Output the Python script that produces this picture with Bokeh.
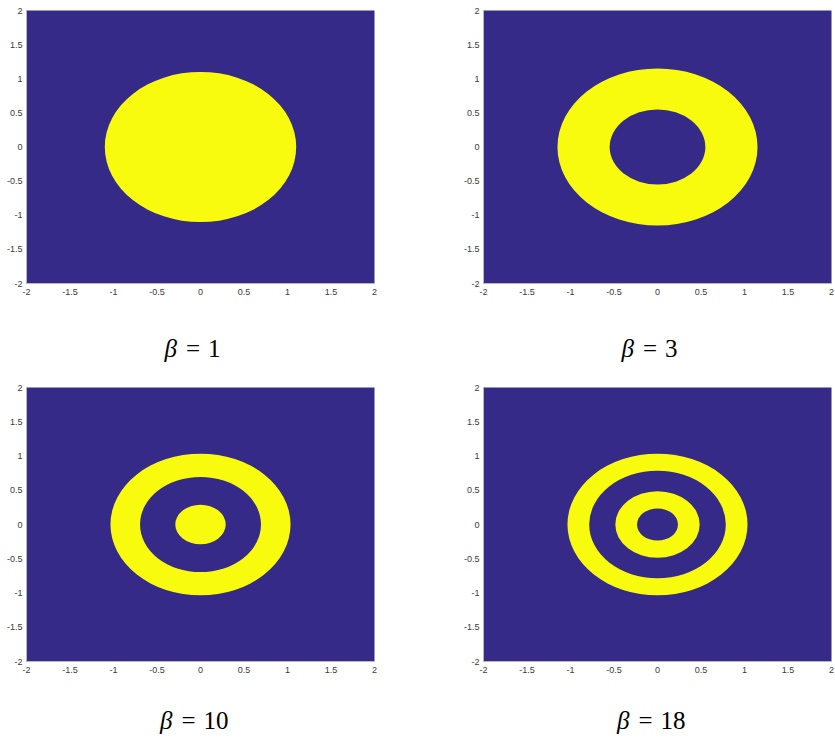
from bokeh.plotting import figure
from bokeh.layouts import column, row
from bokeh.models import FixedTicker, Label
from bokeh.embed import file_html
from bokeh.resources import INLINE

# ---- data ----
betas = [1, 3, 10, 18]
# boundary radii of the yellow/blue zones, outermost first (outermost zone is yellow)
radii_b1 = [1.10]
radii_b3 = [1.15, 0.55]
radii_b10 = [1.035, 0.695, 0.29]
radii_b18 = [1.035, 0.785, 0.485, 0.235]
tick_values = [-2, -1.5, -1, -0.5, 0, 0.5, 1, 1.5, 2]
tick_labels = ["-2", "-1.5", "-1", "-0.5", "0", "0.5", "1", "1.5", "2"]

BLUE = "#352A87"
YELLOW = "#F9FB0E"
FRAME_W = 348
TOTAL_W = 835


def make(radii, left, right, top, bottom, frame_h):
    p = figure(x_range=(-2, 2), y_range=(-2, 2),
               frame_width=FRAME_W, frame_height=frame_h,
               min_border_left=left, min_border_right=right,
               min_border_top=top, min_border_bottom=bottom,
               output_backend="svg", toolbar_location=None,
               background_fill_color=BLUE, border_fill_color="white",
               outline_line_color=None)
    p.grid.visible = False
    colors = [YELLOW if i % 2 == 0 else BLUE for i in range(len(radii))]
    diam = [2 * r for r in radii]
    p.ellipse(x=[0] * len(radii), y=[0] * len(radii), width=diam, height=diam,
              fill_color=colors, line_color=None)

    p.axis.ticker = FixedTicker(ticks=tick_values)
    p.axis.major_label_overrides = {v: s for v, s in zip(tick_values, tick_labels)}
    p.axis.major_label_text_font = "Liberation Sans"
    p.axis.major_label_text_font_size = "9px"
    p.axis.major_label_text_color = "#3a3a3a"
    p.axis.major_tick_in = 0
    p.axis.major_tick_out = 0
    p.axis.minor_tick_in = 0
    p.axis.minor_tick_out = 0
    p.axis.axis_line_color = "#b8b8b8"
    p.axis.axis_line_width = 1
    p.xaxis.major_label_standoff = 5
    p.yaxis.major_label_standoff = 4
    return p


def caption_row(height, ycenter, pairs):
    f = figure(width=TOTAL_W, height=height, x_range=(0, TOTAL_W), y_range=(0, height),
               min_border=0, x_axis_type=None, y_axis_type=None,
               output_backend="svg", toolbar_location=None,
               outline_line_color=None, background_fill_color="white",
               border_fill_color="white")
    f.grid.visible = False
    for beta, cx in pairs:
        nd = len(str(beta))
        eq_x = cx - 7.5 - 4.5 * (nd - 1)
        common = dict(y=ycenter, text_baseline="middle",
                      text_font="Liberation Serif", text_font_size="25px",
                      text_color="black")
        f.add_layout(Label(x=eq_x - 16, text="β", text_align="right",
                           text_font_style="italic", **common))
        f.add_layout(Label(x=eq_x, text="=", text_align="center", **common))
        f.add_layout(Label(x=eq_x + 15, text=str(beta), text_align="left", **common))
    return f


p1 = make(radii_b1, 26, 40, 10, 24, 273)
p2 = make(radii_b3, 69, 4, 10, 24, 273)
p3 = make(radii_b10, 26, 40, 4, 24, 274)
p4 = make(radii_b18, 69, 4, 4, 24, 274)

cap1 = caption_row(76, 35, [(betas[0], 200), (betas[1], 657)])
cap2 = caption_row(52, 17, [(betas[2], 200), (betas[3], 657)])

layout = column(row(p1, p2), cap1, row(p3, p4), cap2)

open("out.html", "w").write(file_html(layout, INLINE))
